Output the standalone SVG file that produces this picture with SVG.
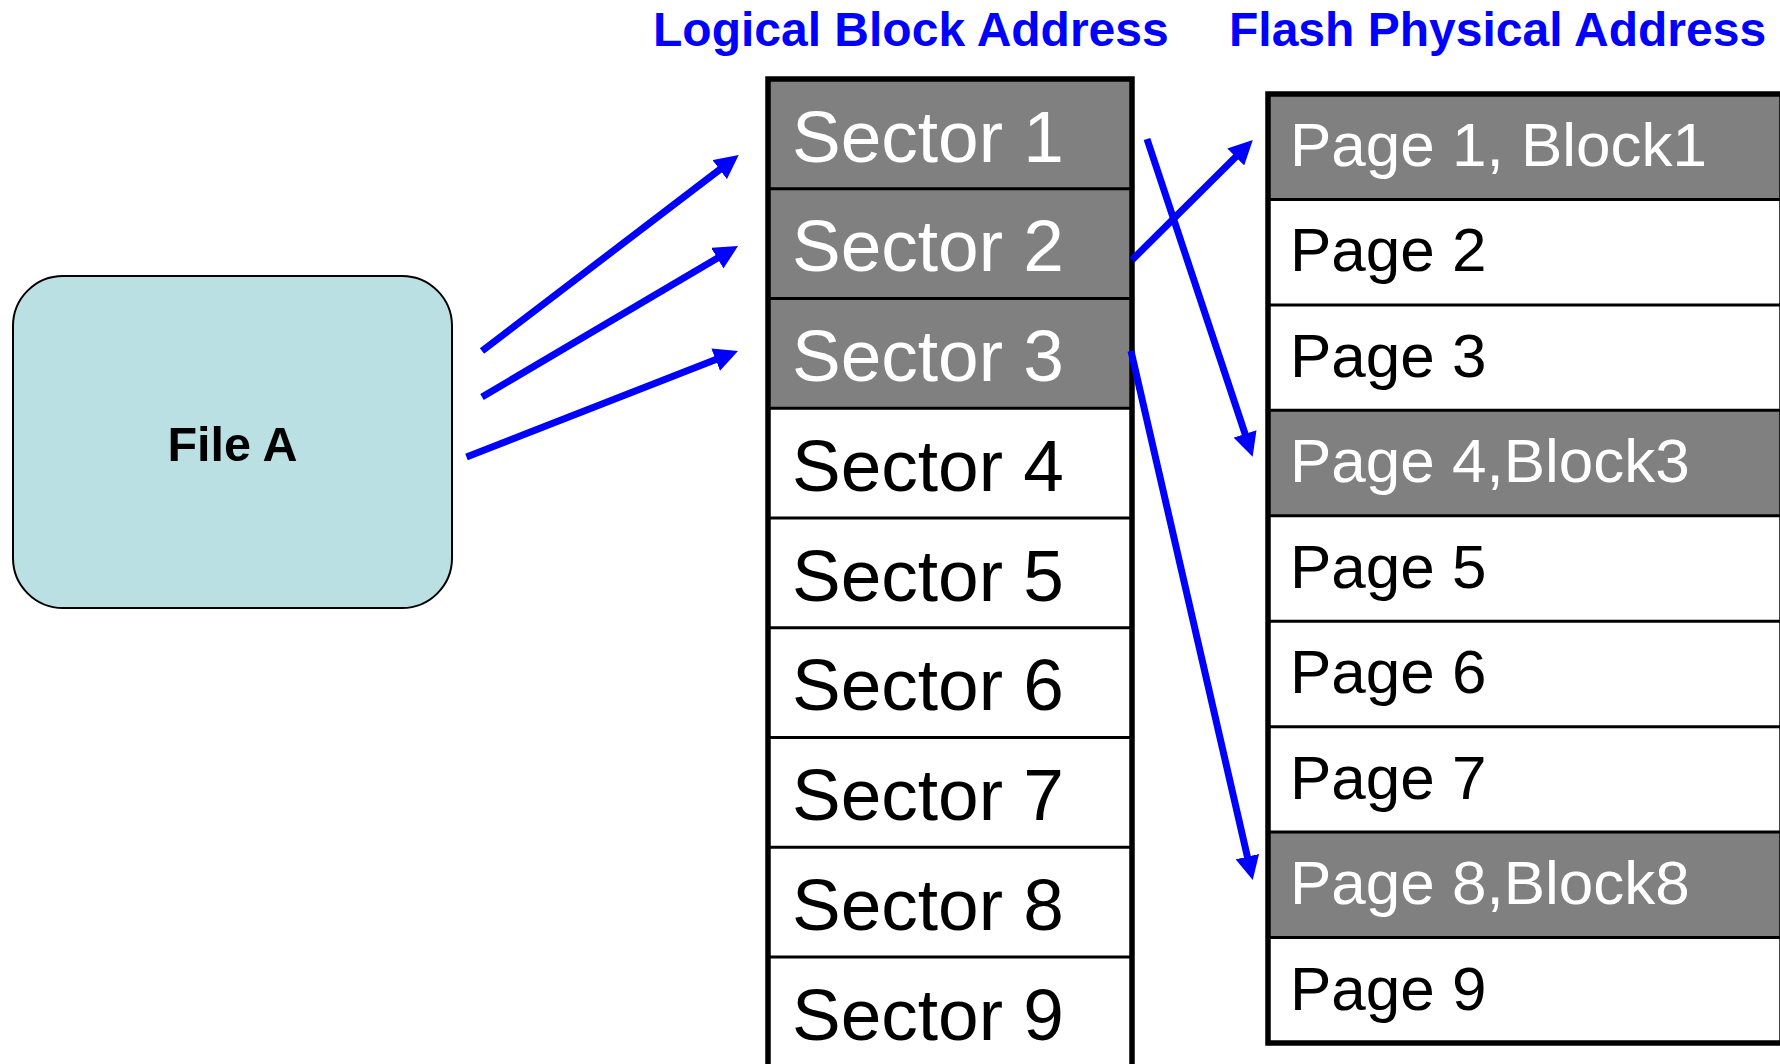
<svg xmlns="http://www.w3.org/2000/svg" width="1780" height="1064" viewBox="0 0 1780 1064">
  <style>
    .title { font-family: "Liberation Sans", Arial, sans-serif; font-weight: bold; font-size: 48px; fill: #0000ff; }
    .sec { font-family: "Liberation Sans", Arial, sans-serif; font-size: 73px; }
    .pg { font-family: "Liberation Sans", Arial, sans-serif; font-size: 62px; }
    .dk { fill: #ffffff; }
    .lt { fill: #000000; }
    .div { stroke: #000000; stroke-width: 3; }
    .outer { fill: none; stroke: #000000; stroke-width: 5.5; }
    .arrow { stroke: #0000ff; stroke-width: 7; fill: none; marker-end: url(#ah); }
  </style>
  <defs>
    <marker id="ah" markerUnits="userSpaceOnUse" markerWidth="24" markerHeight="24" refX="14" refY="12" orient="auto">
      <path d="M0,0 L24,12 L0,24 z" fill="#0000ff"/>
    </marker>
  </defs>
  <rect width="1780" height="1064" fill="#ffffff"/>

  <g id="titles">
    <text class="title" x="653" y="46">Logical Block Address</text>
    <text class="title" x="1229" y="46">Flash Physical Address</text>
  </g>

  <g id="fileA">
    <rect x="13" y="276" width="439" height="332" rx="50" ry="50" fill="#bbe0e3" stroke="#000000" stroke-width="2"/>
    <text x="232.5" y="461" text-anchor="middle" font-family="Liberation Sans, Arial, sans-serif" font-weight="bold" font-size="48.5" fill="#000000">File A</text>
  </g>

  <g id="sectors">
    <rect x="768" y="79" width="364" height="1000" fill="#ffffff"/>
    <rect x="768" y="79" width="364" height="329.25" fill="#808080"/>
    <line class="div" x1="768" y1="188.75" x2="1132" y2="188.75"/>
    <line class="div" x1="768" y1="298.5" x2="1132" y2="298.5"/>
    <line class="div" x1="768" y1="408.25" x2="1132" y2="408.25"/>
    <line class="div" x1="768" y1="518" x2="1132" y2="518"/>
    <line class="div" x1="768" y1="627.75" x2="1132" y2="627.75"/>
    <line class="div" x1="768" y1="737.5" x2="1132" y2="737.5"/>
    <line class="div" x1="768" y1="847.25" x2="1132" y2="847.25"/>
    <line class="div" x1="768" y1="957" x2="1132" y2="957"/>
    <rect class="outer" x="768" y="79" width="364" height="1000"/>
    <text class="sec dk" x="792" y="161.5">Sector 1</text>
    <text class="sec dk" x="792" y="271.25">Sector 2</text>
    <text class="sec dk" x="792" y="381">Sector 3</text>
    <text class="sec lt" x="792" y="490.75">Sector 4</text>
    <text class="sec lt" x="792" y="600.5">Sector 5</text>
    <text class="sec lt" x="792" y="710.25">Sector 6</text>
    <text class="sec lt" x="792" y="820">Sector 7</text>
    <text class="sec lt" x="792" y="929.75">Sector 8</text>
    <text class="sec lt" x="792" y="1039.5">Sector 9</text>
  </g>

  <g id="pages">
    <rect x="1268" y="94" width="514" height="949" fill="#ffffff"/>
    <rect x="1268" y="94" width="514" height="105.4" fill="#808080"/>
    <rect x="1268" y="410.3" width="514" height="105.5" fill="#808080"/>
    <rect x="1268" y="832.1" width="514" height="105.5" fill="#808080"/>
    <line class="div" x1="1268" y1="199.4" x2="1782" y2="199.4"/>
    <line class="div" x1="1268" y1="304.9" x2="1782" y2="304.9"/>
    <line class="div" x1="1268" y1="410.3" x2="1782" y2="410.3"/>
    <line class="div" x1="1268" y1="515.8" x2="1782" y2="515.8"/>
    <line class="div" x1="1268" y1="621.2" x2="1782" y2="621.2"/>
    <line class="div" x1="1268" y1="726.7" x2="1782" y2="726.7"/>
    <line class="div" x1="1268" y1="832.1" x2="1782" y2="832.1"/>
    <line class="div" x1="1268" y1="937.6" x2="1782" y2="937.6"/>
    <rect class="outer" x="1268" y="94" width="514" height="949"/>
    <text class="pg dk" x="1290" y="166">Page 1, Block1</text>
    <text class="pg lt" x="1290" y="271.4">Page 2</text>
    <text class="pg lt" x="1290" y="376.9">Page 3</text>
    <text class="pg dk" x="1290" y="482.3">Page 4,Block3</text>
    <text class="pg lt" x="1290" y="587.8">Page 5</text>
    <text class="pg lt" x="1290" y="693.2">Page 6</text>
    <text class="pg lt" x="1290" y="798.7">Page 7</text>
    <text class="pg dk" x="1290" y="904.1">Page 8,Block8</text>
    <text class="pg lt" x="1290" y="1009.6">Page 9</text>
  </g>

  <g id="connectors">
    <line class="arrow" x1="482" y1="351" x2="730.8" y2="161.1"/>
    <line class="arrow" x1="482" y1="397" x2="729.4" y2="251.1"/>
    <line class="arrow" x1="466.5" y1="457" x2="728.7" y2="354.6"/>
    <line class="arrow" x1="1147" y1="139" x2="1249.5" y2="447.2"/>
    <line class="arrow" x1="1132" y1="260" x2="1245.7" y2="147.1"/>
    <line class="arrow" x1="1131" y1="351" x2="1250.5" y2="870.3"/>
  </g>
</svg>
